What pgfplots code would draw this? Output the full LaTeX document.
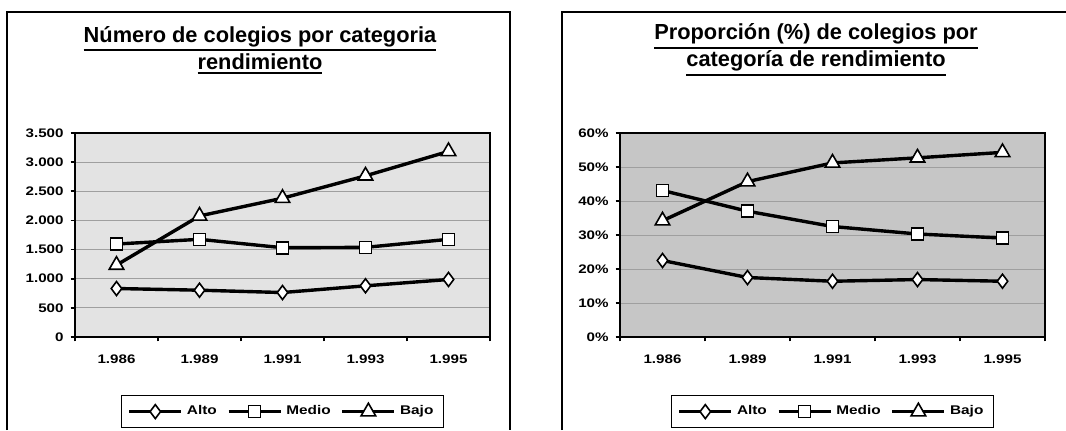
\documentclass[border=0pt]{standalone}
\usepackage{fontspec}
\setmainfont{Liberation Sans}
\newfontfamily\widefont[FakeStretch=1.22]{Liberation Sans}
\usepackage{pgfplots}
\pgfplotsset{compat=1.18}

\newcommand\ul[1]{\leavevmode\vtop{\hbox{#1}\kern1.3pt\hrule height 1pt}}
\newcommand\tickf{\widefont\bfseries\fontsize{6.2}{7}\selectfont}
\newcommand\legf{\widefont\bfseries\fontsize{6.3}{7}\selectfont}

\pgfplotstableread{
x alto medio bajo
0 832 1595 1234
1 803 1676 2077
2 763 1532 2381
3 878 1538 2765
4 987 1676 3184
}\numtable

\pgfplotstableread{
x alto medio bajo
0 22.5 43.1 34.2
1 17.5 37.0 45.7
2 16.4 32.5 51.2
3 16.9 30.3 52.7
4 16.4 29.1 54.3
}\pcttable

\pgfplotsset{
  excel/.style={
    scale only axis,
    xmin=-0.5, xmax=4.5,
    xtick={0,1,2,3,4},
    xticklabels={1.986,1.989,1.991,1.993,1.995},
    minor xtick={-0.5,0.5,1.5,2.5,3.5,4.5},
    major x tick style={draw=none},
    minor tick length=2.2pt,
    major tick length=2.2pt,
    tick align=outside,
    tick pos=left,
    ymajorgrids,
    major grid style={gray!75, line width=0.4pt},
    axis line style={black, line width=0.8pt},
    tick style={black, line width=0.8pt},
    ticklabel style={font=\tickf},
    xticklabel style={yshift=-3pt},
    legend style={at={(0.5,-0.285)}, anchor=north, legend columns=3,
      draw=black, font=\legf, inner xsep=3pt, inner ysep=3pt,
      /tikz/every even column/.append style={column sep=3pt}},
    legend image code/.code={\draw[#1, mark repeat=2, mark phase=2]
      plot coordinates {(0pt,0pt) (13pt,0pt) (26pt,0pt)};},
    every axis plot/.append style={black, line width=1.7pt,
      mark options={solid, fill=white, line width=0.8pt}},
  }
}

\begin{document}
\begin{tikzpicture}
\fill[white] (0,0) rectangle (533pt,215pt);
\path[use as bounding box] (0,0) rectangle (533pt,215pt);
\draw[black, line width=0.8pt] (3.5pt,0) -- (3.5pt,209pt) -- (255pt,209pt) -- (255pt,0);
\draw[black, line width=0.8pt] (281pt,0) -- (281pt,209pt) -- (533pt,209pt);

\node[align=center, font=\bfseries\fontsize{10.9}{13.5}\selectfont] at (130pt,190pt)
  {\ul{Número de colegios por categoria}\\\ul{rendimiento}};
\node[align=center, font=\bfseries\fontsize{10.9}{13.5}\selectfont] at (408pt,190pt)
  {\ul{Proporción (\%) de colegios por}\\\ul{categoría de rendimiento}};

\begin{axis}[excel,
  at={(37.5pt,46.5pt)}, anchor=south west,
  width=207.5pt, height=102pt,
  axis background/.style={fill=gray!22},
  ymin=0, ymax=3500,
  ytick={0,500,1000,1500,2000,2500,3000,3500},
  yticklabels={0,500,1.000,1.500,2.000,2.500,3.000,3.500},
]
\addplot[mark=diamond*, mark size=3.5pt] table[x=x, y=alto] {\numtable};
\addlegendentry{Alto}
\addplot[mark=square*, mark size=3pt] table[x=x, y=medio] {\numtable};
\addlegendentry{Medio}
\addplot[mark=triangle*, mark size=4.2pt] table[x=x, y=bajo] {\numtable};
\addlegendentry{Bajo}
\end{axis}

\begin{axis}[excel,
  at={(310pt,46.5pt)}, anchor=south west,
  width=212.5pt, height=102pt,
  axis background/.style={fill=gray!45},
  ymin=0, ymax=60,
  ytick={0,10,20,30,40,50,60},
  yticklabels={0\%,10\%,20\%,30\%,40\%,50\%,60\%},
]
\addplot[mark=diamond*, mark size=3.5pt] table[x=x, y=alto] {\pcttable};
\addlegendentry{Alto}
\addplot[mark=square*, mark size=3pt] table[x=x, y=medio] {\pcttable};
\addlegendentry{Medio}
\addplot[mark=triangle*, mark size=4.2pt] table[x=x, y=bajo] {\pcttable};
\addlegendentry{Bajo}
\end{axis}
\end{tikzpicture}
\end{document}
